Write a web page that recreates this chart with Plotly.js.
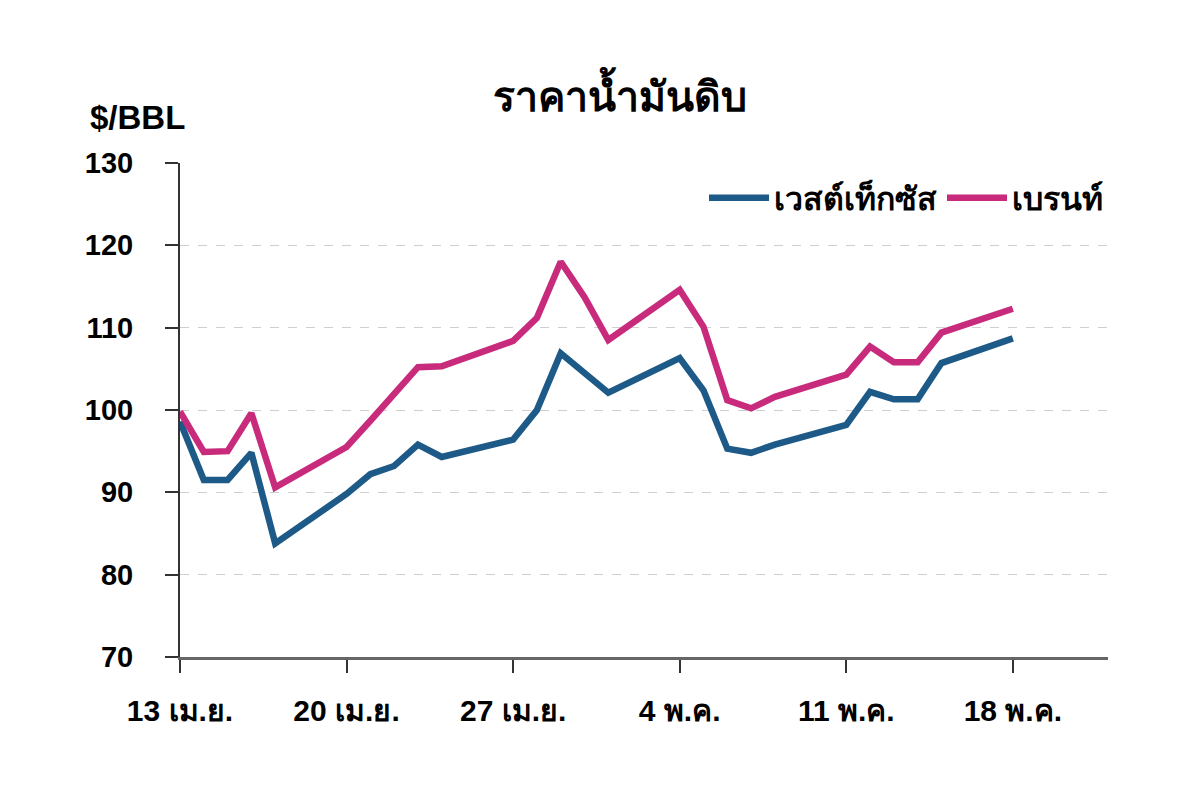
<!DOCTYPE html>
<html>
<head>
<meta charset="utf-8">
<script src="https://cdn.plot.ly/plotly-3.0.1.min.js"></script>
<style>html,body{margin:0;padding:0;background:#fff;}#chart{width:1200px;height:787px;}</style>
</head>
<body>
<div id="chart"></div>
<script>
const dates = ["2020-04-13","2020-04-14","2020-04-15","2020-04-16","2020-04-17",
  "2020-04-20","2020-04-21","2020-04-22","2020-04-23","2020-04-24",
  "2020-04-27","2020-04-28","2020-04-29","2020-04-30","2020-05-01",
  "2020-05-04","2020-05-05","2020-05-06","2020-05-07","2020-05-08",
  "2020-05-11","2020-05-12","2020-05-13","2020-05-14","2020-05-15",
  "2020-05-18"];
const wti = [98.6, 91.5, 91.5, 94.8, 83.8, 89.8, 92.2, 93.2, 95.8, 94.3,
  96.4, 100.0, 106.9, 104.5, 102.1, 106.3, 102.4, 95.3, 94.8, 95.8,
  98.2, 102.2, 101.3, 101.3, 105.7, 108.7];
const brent = [99.8, 94.9, 95.0, 99.6, 90.6, 95.5, 98.7, 102.0, 105.2, 105.3,
  108.4, 111.2, 118.0, 113.7, 108.5, 114.6, 110.1, 101.2, 100.2, 101.6,
  104.3, 107.7, 105.8, 105.8, 109.4, 112.3];
const tickDates = ["2020-04-13","2020-04-20","2020-04-27","2020-05-04","2020-05-11","2020-05-18"];
const tickLabels = ["13 เม.ย.","20 เม.ย.","27 เม.ย.","4 พ.ค.","11 พ.ค.","18 พ.ค."];
const seriesNames = ["เวสต์เท็กซัส","เบรนท์"];
const chartTitle = "ราคาน้ำมันดิบ";
const unitLabel = "$/BBL";

const fontFam = "Liberation Sans, Arial, sans-serif";
const traces = [
  {x: dates, y: wti, name: seriesNames[0], type: "scatter", mode: "lines",
   line: {color: "#1d5a87", width: 6.5}},
  {x: dates, y: brent, name: seriesNames[1], type: "scatter", mode: "lines",
   line: {color: "#c82a7c", width: 6.5}}
];
const layout = {
  width: 1200, height: 787,
  margin: {l: 180, r: 92, t: 163, b: 130},
  paper_bgcolor: "#fff", plot_bgcolor: "#fff",
  font: {family: fontFam, color: "#000", size: 22},
  title: {text: "<b>" + chartTitle + "</b>", x: 0.517, xref: "container", xanchor: "center",
    y: 0.877, yref: "container", yanchor: "middle", font: {size: 41, family: fontFam, color: "#000"}},
  xaxis: {type: "date", range: ["2020-04-13", "2020-05-22"], tickvals: tickDates, ticktext: tickLabels,
    showgrid: false, zeroline: false, showline: true, linecolor: "#666", linewidth: 3,
    ticks: "outside", ticklen: 13, tickwidth: 2, tickcolor: "#333",
    tickfont: {size: 30, family: fontFam, color: "#000", weight: "bold"}, ticklabelstandoff: 12, fixedrange: true},
  yaxis: {range: [70, 130], dtick: 10, showgrid: true, gridcolor: "#cfcfcf", griddash: "dash", gridwidth: 1,
    zeroline: false, showline: true, linecolor: "#333", linewidth: 2,
    ticks: "outside", ticklen: 13, tickwidth: 2, tickcolor: "#333",
    tickfont: {size: 29, family: fontFam, color: "#000", weight: "bold"}, ticklabelstandoff: 26, fixedrange: true},
  legend: {orientation: "h", x: 1.0, xanchor: "right", y: 0.929, yanchor: "middle",
    font: {size: 32, family: fontFam, color: "#000", weight: "bold"}, bgcolor: "rgba(0,0,0,0)", itemwidth: 60},
  showlegend: true,
  annotations: [{text: "<b>" + unitLabel + "</b>", xref: "paper", yref: "paper", x: -0.099, y: 1.093,
    xanchor: "left", yanchor: "middle", showarrow: false, font: {size: 33, family: fontFam, color: "#000"}}]
};
Plotly.newPlot("chart", traces, layout, {displayModeBar: false, staticPlot: true});
</script>
</body>
</html>
